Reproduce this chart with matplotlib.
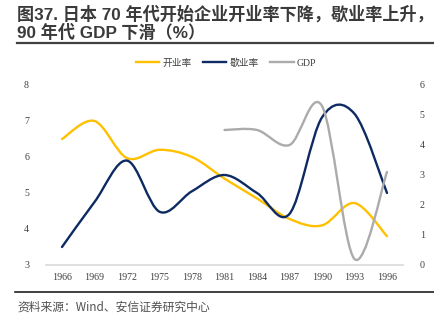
import matplotlib
matplotlib.use("Agg")
import matplotlib.pyplot as plt
from matplotlib.path import Path
from matplotlib.patches import PathPatch
from matplotlib.lines import Line2D

# data
years = ["1966", "1969", "1972", "1975", "1978", "1981", "1984", "1987", "1990", "1993", "1996"]
open_rate = [6.5, 7.0, 5.97, 6.2, 6.0, 5.4, 4.85, 4.28, 4.1, 4.72, 3.8]
close_rate = [3.5, 4.75, 5.9, 4.48, 5.05, 5.5, 5.0, 4.42, 7.1, 7.2, 5.0]
gdp_years = ["1981", "1984", "1987", "1990", "1993", "1996"]
gdp = [4.5, 4.5, 4.0, 5.3, 0.2, 3.1]

YELLOW = "#FFC000"
NAVY = "#0E2A63"
GREY = "#ABABAB"


def smooth_path(xs, ys):
    # Excel-like smoothed line: cubic Bezier segments through every point
    n = len(xs)
    verts = [(xs[0], ys[0])]
    codes = [Path.MOVETO]
    for i in range(n - 1):
        x0, y0 = xs[max(i - 1, 0)], ys[max(i - 1, 0)]
        x1, y1 = xs[i], ys[i]
        x2, y2 = xs[i + 1], ys[i + 1]
        x3, y3 = xs[min(i + 2, n - 1)], ys[min(i + 2, n - 1)]
        verts += [(x1 + (x2 - x0) / 6, y1 + (y2 - y0) / 6),
                  (x2 - (x3 - x1) / 6, y2 - (y3 - y1) / 6),
                  (x2, y2)]
        codes += [Path.CURVE4] * 3
    return Path(verts, codes)


fig = plt.figure(figsize=(4.35, 3.27), dpi=100)
W, H = 435, 327
ax = fig.add_axes([45.75 / W, 1 - 265 / H, (403.25 - 45.75) / W, 180 / H])
ax2 = ax.twinx()

xpos = list(range(len(years)))
gx = [years.index(y) for y in gdp_years]

ax.add_patch(PathPatch(smooth_path(xpos, open_rate), fill=False, edgecolor=YELLOW, lw=1.7, capstyle="round"))
ax.add_patch(PathPatch(smooth_path(xpos, close_rate), fill=False, edgecolor=NAVY, lw=1.7, capstyle="round"))
ax2.add_patch(PathPatch(smooth_path(gx, gdp), fill=False, edgecolor=GREY, lw=1.7, capstyle="round"))

ax.set_xlim(-0.5, len(years) - 0.5)
ax.set_ylim(3, 8)
ax2.set_ylim(0, 6)
ax.set_xticks(xpos)
ax.set_xticklabels(years)
ax.set_yticks(range(3, 9))
ax2.set_yticks(range(0, 7))

for a in (ax, ax2):
    for s in a.spines.values():
        s.set_visible(False)
    a.tick_params(length=0, labelsize=7.2, colors="#404040")
    for lab in a.get_xticklabels() + a.get_yticklabels():
        lab.set_family("Liberation Serif")
ax.spines["bottom"].set_visible(True)
ax.spines["bottom"].set_color("#D9D9D9")
ax.spines["bottom"].set_linewidth(1.2)
ax.tick_params(axis="y", pad=12)
ax.tick_params(axis="x", pad=6)
ax2.tick_params(axis="y", pad=12)

handles = [Line2D([], [], color=YELLOW, lw=1.7),
           Line2D([], [], color=NAVY, lw=1.7),
           Line2D([], [], color=GREY, lw=1.7)]
fig.legend(handles, ["开业率", "歇业率", "GDP"], loc="center",
           bbox_to_anchor=(226 / W, 1 - 63 / H), ncol=3, frameon=False,
           handlelength=2.4, columnspacing=1.2, handletextpad=0.3,
           prop={"family": ["Liberation Serif", "Noto Sans CJK SC"], "size": 7},
           labelcolor="#404040")

title_font = ["Liberation Sans", "Noto Sans CJK SC"]
fig.text(17 / W, 1 - 14 / H, "图37. 日本 70 年代开始企业开业率下降，歇业率上升，",
         family=title_font, weight="bold", fontsize=12.3, color="#3A3A3A", va="center")
fig.text(17 / W, 1 - 32 / H, "90 年代 GDP 下滑（%）",
         family=title_font, weight="bold", fontsize=12.3, color="#3A3A3A", va="center")
fig.add_artist(Line2D([17 / W, 433 / W], [1 - 43 / H, 1 - 43 / H], color="#404040", lw=1.6))
fig.add_artist(Line2D([15 / W, 1.0], [1 - 292 / H, 1 - 292 / H], color="#202020", lw=1.2))
fig.text(17 / W, 1 - 307 / H, "资料来源：Wind、安信证券研究中心",
         family=["Noto Sans CJK SC", "DejaVu Sans"], fontsize=8.5, color="#505050",
         style="italic", va="center")

fig.savefig("out.png", dpi=100)
